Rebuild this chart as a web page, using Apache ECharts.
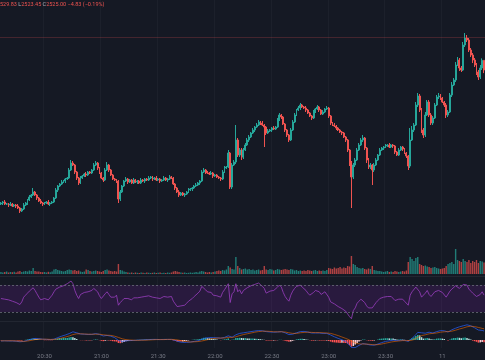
<!DOCTYPE html>
<html><head><meta charset="utf-8">
<script src="https://cdn.jsdelivr.net/npm/echarts/dist/echarts.min.js"></script>
<style>html,body{margin:0;padding:0;background:#151924;}#c{width:485px;height:360px;}</style>
</head><body><div id="c"></div>
<script>
const startMinute = 20 * 60 + 7;
const tickTimes = ['20:30','21:00','21:30','22:00','22:30','23:00','23:30','00:00'];
const tickLabels = ['20:30','21:00','21:30','22:00','22:30','23:00','23:30','11'];
const legendParts = [['', '529.83 '], ['L', '2523.45 '], ['C', '2525.00 '], ['', '\u22124.83 (\u22120.19%)']];
const highLine = 2541.5;
const firstOpen = 2458;
const closes = [
2458.5,2459,2458,2458,2457.5,2458,2457,2457.5,2457,2456,
2454.5,2455.5,2457.5,2458.5,2460,2461.5,2462.5,2464,2462.5,2461,
2459.5,2458.5,2458,2458.5,2459,2458,2458.5,2459,2461,2465,
2467,2468,2469,2469.5,2470.5,2471,2475,2478.5,2477.5,2474,
2471,2468.5,2471,2472,2473,2472.5,2474,2473.5,2475,2477.5,
2478.5,2476,2473.5,2471,2470,2475,2477.5,2475,2472.5,2470.5,
2470,2469.5,2460.5,2464,2467,2469.5,2470.5,2469,2470,2468.5,
2470,2469,2469.5,2468.5,2470,2469.5,2470.5,2470,2471,2471.5,
2470.5,2471,2470,2470.5,2469.5,2470,2471,2470,2470.5,2471.5,
2471,2468,2466,2464,2462.5,2463.5,2462.5,2463,2464,2465,
2465.5,2466,2467,2467.5,2468.5,2469.5,2474,2475,2474,2473.5,
2473,2473.5,2472,2472.5,2471.5,2471,2470.5,2474,2476,2476.5,
2483.5,2466.5,2477.5,2479,2490,2482.5,2485,2481.5,2485,2487.5,
2490,2491.5,2493.5,2495,2496.5,2497.5,2499,2498.5,2497.5,2496.5,
2493.5,2494.5,2495,2496,2495.5,2496.5,2500,2502.5,2501.5,2498,
2495,2492.5,2490,2495,2499,2502.5,2505,2506,2507.5,2506.5,
2506,2505,2503.5,2502,2501,2504,2505.5,2506.5,2505,2503,
2504,2505.5,2506,2502,2498.5,2497.5,2497,2496,2495,2494,
2493.5,2491.5,2490,2485,2478.5,2471.5,2477.5,2480,2485,2487.5,
2490,2491,2486,2480,2476.5,2477.5,2475,2477.5,2480,2482.5,
2485,2486,2486.5,2487,2487.5,2486.5,2487.5,2487,2484,2482.5,
2485,2486.5,2485.5,2483.5,2482,2477,2490,2495,2497.5,2507.5,
2512,2505,2495,2492.5,2502.5,2509,2502.5,2498.5,2501,2507.5,
2511.5,2512,2511,2509,2507.5,2502.5,2504,2512.5,2517.5,2520,
2527.5,2530,2526,2525,2537.5,2541,2540,2535,2532.5,2530,
2527.5,2524,2521.5,2526,2529.83,2525];
const upperWick = [
0.5,0.5,1,0.5,0.5,1,0.5,0.5,0.5,1,
0.5,0.5,1,0.5,0.5,1,0.5,2,0.5,0.5,
0.5,1,0.5,0.5,0.5,1,0.5,0.5,0.5,1,
0.5,0.5,1,0.5,0.5,0.5,1,1.5,1,0.5,
0.5,0.5,1,0.5,0.5,1,0.5,0.5,0.5,1,
1,0.5,0.5,0.5,0.5,1,1.5,0.5,0.5,0.5,
0.5,0.5,0.5,1,0.5,0.5,1,0.5,0.5,0.5,
1,0.5,0.5,0.5,1,0.5,0.5,0.5,1,0.5,
0.5,0.5,1,0.5,0.5,0.5,1,0.5,0.5,1,
0.5,0.5,0.5,0.5,1,0.5,0.5,0.5,0.5,1,
0.5,0.5,0.5,1,0.5,0.5,1,1,0.5,0.5,
0.5,1,0.5,0.5,0.5,0.5,0.5,1,1,0.5,
1.5,0.5,1,1,7.5,1,1,1,1,1,
1,1,0.5,1,0.5,1,1,0.5,1,0.5,
0.5,1,0.5,0.5,1,0.5,1,1,0.5,0.5,
0.5,0.5,0.5,1,1,1,0.5,1,1,0.5,
0.5,1,0.5,0.5,0.5,1,0.5,1,0.5,0.5,
1,0.5,1,0.5,0.5,0.5,1,0.5,0.5,0.5,
0.5,0.5,0.5,0.5,0.5,1,1,1,1,1,
1,1.5,0.5,0.5,1,1,0.5,1,1,0.5,
1,0.5,0.5,1,0.5,1,0.5,0.5,0.5,0.5,
1,0.5,0.5,0.5,0.5,0.5,6,2,1,1.5,
1.5,1,1,1,1.5,1,1,1,1,1,
1,1.5,1,0.5,0.5,1,1,1,1.5,1,
1.5,1.5,1,1,1.5,2.5,1.5,1,1,1,
1,1,1,1.5,1,0];
const lowerWick = [
0.5,1,0.5,0.5,1,0.5,0.5,0.5,1,0.5,
1,0.5,0.5,0.5,1,0.5,0.5,0.5,0.5,1,
0.5,0.5,1,0.5,0.5,0.5,1,0.5,0.5,0.5,
1,0.5,0.5,0.5,1,0.5,0.5,0.5,0.5,1,
1,1,0.5,0.5,0.5,1,0.5,0.5,0.5,0.5,
0.5,1,0.5,0.5,1,0.5,0.5,1,0.5,0.5,
0.5,1,2,1,0.5,0.5,0.5,1,0.5,0.5,
0.5,0.5,1,0.5,0.5,0.5,1,0.5,0.5,0.5,
1,0.5,0.5,0.5,1,0.5,0.5,0.5,1,0.5,
0.5,0.5,1,0.5,1,0.5,0.5,1,0.5,0.5,
0.5,1,0.5,0.5,0.5,1,0.5,0.5,1,0.5,
0.5,0.5,1,0.5,0.5,0.5,1,0.5,0.5,0.5,
0.5,1,1,0.5,1,1,1,1.5,1,0.5,
0.5,1,0.5,0.5,1,0.5,0.5,1,0.5,10,
1,0.5,0.5,1,0.5,0.5,0.5,0.5,1,0.5,
1,1,1,0.5,0.5,0.5,0.5,0.5,1,0.5,
0.5,1,0.5,0.5,1,0.5,0.5,0.5,1,0.5,
0.5,0.5,0.5,1,1,0.5,0.5,1,0.5,0.5,
1,0.5,1,1,1.5,15.5,1,1,0.5,0.5,
0.5,1,1,1.5,1,1,7.5,1,0.5,0.5,
0.5,0.5,1,0.5,0.5,0.5,0.5,1,1,0.5,
0.5,0.5,1,0.5,1,2,1,0.5,1,0.5,
1,1,1.5,1.5,1,0.5,1,1,1,0.5,
0.5,1,1,0.5,1,1.5,1,0.5,1,0.5,
1,0.5,1.5,1,0.5,1,1,1,1,1.5,
1,1.5,1.5,1,1,1.55];
const volumes = [
20,15,20,25,15,20,18,22,15,25,
30,20,25,30,25,35,30,60,30,25,
25,20,18,20,15,22,18,25,45,50,
40,35,30,25,30,40,45,40,35,40,
30,35,25,20,25,45,40,30,25,30,
35,30,25,20,30,40,45,35,30,25,
30,25,100,40,35,25,20,15,12,15,
10,15,12,10,15,12,10,15,12,10,
12,15,10,12,15,10,12,10,15,12,
15,25,30,25,20,15,12,15,10,12,
15,12,15,20,15,25,30,25,20,15,
20,15,20,25,30,35,30,40,35,45,
80,65,50,45,170,80,60,45,50,55,
45,50,40,45,35,40,45,35,40,80,
45,40,50,45,35,40,50,45,40,45,
50,45,40,50,45,35,40,30,35,30,
35,30,40,35,30,35,40,30,35,30,
35,30,40,60,55,50,65,55,60,70,
55,65,60,80,75,180,100,90,70,60,
55,60,50,45,55,50,80,40,35,30,
30,25,20,25,30,20,25,20,30,25,
20,25,30,25,35,120,170,150,130,160,
170,100,90,80,85,75,70,60,65,70,
60,55,50,55,60,80,100,110,120,100,
250,140,130,120,150,130,120,140,110,130,
120,140,110,130,125,115];
const rsi = [
50,51,49,50,48,47,46,45,44,43,
41,45,52,55,58,61,63,66,62,57,
52,48,47,50,49,48,50,55,60,64,
66,67,68,69,70,72,74,76,72,62,
55,50,56,58,59,58,60,59,62,65,
66,60,54,50,49,57,60,56,52,50,
52,55,40,44,47,50,52,50,51,48,
51,50,51,49,52,51,53,52,54,54,
52,53,51,52,50,51,53,51,52,54,
53,46,42,38,36,39,37,40,43,46,
48,50,53,55,58,61,68,69,63,60,
58,59,55,56,54,53,52,59,63,64,
72,44,57,60,72,60,63,57,62,64,
66,67,69,70,71,72,73,71,68,65,
58,60,61,63,62,63,67,70,67,59,
53,49,46,55,61,65,68,69,70,67,
65,62,58,55,53,59,62,63,60,56,
58,60,61,52,45,43,42,40,38,36,
35,33,31,27,23,20,32,36,43,46,
49,50,44,39,36,38,36,40,44,47,
50,51,52,53,53,51,53,52,47,45,
49,51,49,46,44,40,55,60,62,67,
69,60,52,50,58,62,56,53,55,60,
62,62,61,59,58,52,54,61,64,66,
69,70,65,64,71,72,70,64,61,58,
56,53,51,56,60,55];
const macdLine = [
-0.5,-0.4,-0.4,-0.4,-0.5,-0.5,-0.5,-0.6,-0.6,-0.7,
-0.9,-0.9,-0.7,-0.5,-0.2,0.1,0.4,0.7,0.8,0.8,
0.7,0.5,0.4,0.3,0.3,0.2,0.2,0.2,0.4,0.8,
1.2,1.6,1.9,2.2,2.5,2.7,3.2,3.8,4.1,4.0,
3.6,3.1,3.0,2.9,2.9,2.8,2.8,2.7,2.8,3.0,
3.2,3.1,2.8,2.4,2.0,2.1,2.3,2.2,1.9,1.5,
1.2,0.9,-0.2,-0.6,-0.7,-0.6,-0.4,-0.4,-0.3,-0.3,
-0.2,-0.2,-0.1,-0.1,0.0,0.0,0.1,0.1,0.2,0.3,
0.3,0.3,0.3,0.3,0.2,0.2,0.3,0.3,0.3,0.3,
0.3,0.1,-0.2,-0.6,-0.9,-1.1,-1.2,-1.2,-1.2,-1.1,
-1.0,-0.9,-0.7,-0.6,-0.4,-0.2,0.3,0.8,1.0,1.1,
1.2,1.2,1.2,1.2,1.1,1.0,0.9,1.1,1.3,1.5,
2.1,1.2,1.4,1.6,2.6,2.9,3.3,3.4,3.6,3.9,
3.9,4.0,4.2,4.4,4.5,4.6,4.7,4.7,4.6,4.5,
4.2,4.1,4.0,3.9,3.9,3.9,4.0,4.2,4.2,4.0,
3.6,3.2,2.7,2.7,2.9,3.2,3.6,3.9,4.2,4.3,
4.3,4.2,4.0,3.8,3.5,3.5,3.5,3.6,3.5,3.3,
3.3,3.3,3.3,3.0,2.5,2.0,1.6,1.2,0.8,0.4,
0.1,-0.3,-0.7,-1.4,-2.5,-3.8,-4.0,-3.8,-3.3,-2.7,
-2.2,-1.8,-1.8,-2.1,-2.4,-2.5,-2.7,-2.6,-2.4,-2.0,
-1.6,-1.3,-1.0,-0.7,-0.5,-0.4,-0.2,-0.1,-0.2,-0.3,
-0.2,-0.1,-0.1,-0.2,-0.3,-0.7,0.0,0.8,1.5,2.7,
3.8,4.1,3.6,3.1,3.4,3.9,3.9,3.6,3.5,3.8,
4.2,4.5,4.7,4.7,4.6,4.2,4.0,4.5,5.1,5.6,
5.9,6.4,6.6,6.6,7.1,7.5,7.6,7.4,7.1,6.6,
6.1,5.6,5.0,4.8,4.8,4.5];
const signalLine = [
-0.4,-0.4,-0.4,-0.4,-0.4,-0.4,-0.4,-0.5,-0.5,-0.5,
-0.6,-0.6,-0.7,-0.6,-0.5,-0.4,-0.2,0.0,0.2,0.3,
0.4,0.4,0.4,0.4,0.4,0.3,0.3,0.3,0.3,0.4,
0.5,0.7,1.0,1.2,1.5,1.7,2.0,2.3,2.7,3.0,
3.1,3.1,3.1,3.0,3.0,3.0,2.9,2.9,2.9,2.9,
2.9,3.0,2.9,2.8,2.6,2.5,2.4,2.4,2.3,2.1,
1.9,1.7,1.3,1.0,0.6,0.4,0.2,0.1,0.0,-0.1,
-0.1,-0.2,-0.2,-0.2,-0.1,-0.1,-0.1,0.0,0.0,0.1,
0.1,0.2,0.2,0.2,0.2,0.2,0.2,0.2,0.3,0.3,
0.3,0.3,0.2,0.1,-0.1,-0.3,-0.5,-0.7,-0.8,-0.9,
-1.0,-1.0,-0.9,-0.9,-0.8,-0.7,-0.5,-0.3,-0.1,0.2,
0.4,0.6,0.7,0.8,0.9,1.0,1.0,1.0,1.0,1.1,
1.3,1.3,1.3,1.4,1.6,1.9,2.2,2.4,2.7,2.9,
3.1,3.3,3.5,3.7,3.9,4.0,4.2,4.3,4.4,4.4,
4.4,4.3,4.3,4.2,4.1,4.1,4.1,4.1,4.1,4.1,
4.0,3.8,3.6,3.4,3.3,3.3,3.3,3.4,3.6,3.7,
3.8,3.9,3.9,3.9,3.8,3.8,3.7,3.7,3.7,3.6,
3.6,3.6,3.5,3.5,3.3,3.1,2.8,2.5,2.2,1.9,
1.5,1.2,0.8,0.4,0.0,-0.5,-1.0,-1.5,-1.8,-2.0,
-2.0,-2.0,-2.0,-2.0,-2.1,-2.2,-2.3,-2.4,-2.4,-2.3,
-2.2,-2.0,-1.8,-1.6,-1.4,-1.2,-1.0,-0.8,-0.7,-0.6,
-0.5,-0.4,-0.3,-0.3,-0.3,-0.4,-0.3,-0.1,0.2,0.7,
1.3,1.8,2.2,2.4,2.6,2.9,3.1,3.2,3.3,3.4,
3.5,3.7,3.9,4.0,4.1,4.2,4.2,4.2,4.4,4.6,
4.9,5.2,5.5,5.7,6.0,6.3,6.6,6.8,6.9,6.9,
6.7,6.5,6.3,6.0,5.8,5.6];
const macdHist = [
-0.1,0,0,0,-0.1,-0.1,-0.1,-0.1,-0.1,-0.2,
-0.3,-0.3,0,0.1,0.3,0.5,0.6,0.7,0.6,0.5,
0.3,0.1,0,-0.1,-0.1,-0.1,-0.1,-0.1,0.1,0.4,
0.7,0.9,0.9,1.0,1.0,1.0,1.2,1.5,1.4,1.0,
0.5,0,-0.1,-0.1,-0.1,-0.2,-0.1,-0.2,-0.1,0.1,
0.3,0.1,-0.1,-0.4,-0.6,-0.4,-0.1,-0.2,-0.4,-0.6,
-0.7,-0.8,-1.5,-1.6,-1.3,-1.0,-0.6,-0.5,-0.3,-0.2,
-0.1,0,0.1,0.1,0.1,0.1,0.2,0.1,0.2,0.2,
0.2,0.1,0.1,0.1,0,0,0.1,0.1,0,0,
0,-0.2,-0.4,-0.7,-0.8,-0.8,-0.7,-0.5,-0.4,-0.2,
0,0.1,0.2,0.3,0.4,0.5,0.8,1.1,1.1,0.9,
0.8,0.6,0.5,0.4,0.2,0,-0.1,0.1,0.3,0.4,
0.8,-0.1,0.1,0.2,1.0,1.0,1.1,1.0,0.9,1.0,
0.8,0.7,0.7,0.7,0.6,0.6,0.5,0.4,0.2,0.1,
-0.2,-0.2,-0.3,-0.3,-0.2,-0.2,-0.1,0.1,0.1,-0.1,
-0.4,-0.6,-0.9,-0.7,-0.4,-0.1,0.3,0.5,0.6,0.6,
0.5,0.3,0.1,-0.1,-0.3,-0.3,-0.2,-0.1,-0.2,-0.3,
-0.3,-0.3,-0.2,-0.5,-0.8,-1.1,-1.2,-1.3,-1.4,-1.5,
-1.4,-1.5,-1.5,-1.8,-2.5,-3.3,-3.0,-2.3,-1.5,-0.7,
-0.2,0.2,0.2,-0.1,-0.3,-0.3,-0.4,-0.2,0,0.3,
0.6,0.7,0.8,0.9,0.9,0.8,0.8,0.7,0.5,0.3,
0.3,0.3,0.2,0.1,0,-0.3,0.3,0.9,1.3,2.0,
2.5,2.3,1.4,0.7,0.8,1.0,0.8,0.4,0.2,0.4,
0.7,0.8,0.8,0.7,0.5,0,-0.2,0.3,0.7,1.0,
1.0,1.2,1.1,0.9,1.1,1.2,1.0,0.6,0.2,-0.3,
-0.6,-0.9,-1.3,-1.2,-1.0,-1.1];

const UP = '#26a69a', DOWN = '#ef5350';
const times = closes.map((_, i) => {
  const m = startMinute + i;
  return String(Math.floor(m / 60) % 24).padStart(2, '0') + ':' + String(m % 60).padStart(2, '0');
});
const opens = closes.map((c, i) => i === 0 ? firstOpen : closes[i - 1]);
const candleData = closes.map((c, i) => {
  const o = opens[i];
  const col = c >= o ? UP : DOWN;
  return { value: [o, c, Math.min(o, c) - lowerWick[i], Math.max(o, c) + upperWick[i]],
    itemStyle: { color: col, color0: col, borderColor: col, borderColor0: col, borderColorDoji: col } };
});
const volData = volumes.map((v, i) => ({
  value: v,
  itemStyle: { color: closes[i] >= opens[i] ? 'rgba(38,166,154,0.7)' : 'rgba(239,83,80,0.7)' }
}));
const histData = macdHist.map((h, i) => {
  const prev = i === 0 ? 0 : macdHist[i - 1];
  let col;
  if (h >= 0) col = h >= prev ? '#26a69a' : '#b2dfdb';
  else col = h <= prev ? '#ff5252' : '#ffcdd2';
  return { value: h, itemStyle: { color: col } };
});
const isTick = (idx, v) => tickTimes.indexOf(v) >= 0;
const gridCol = '#1c202b';
function xAx(gi, showLabel) {
  return {
    type: 'category', data: times, gridIndex: gi, boundaryGap: true,
    axisLine: { show: false }, axisTick: { show: false },
    axisLabel: showLabel ? {
      show: true, interval: isTick, color: '#787b86', fontSize: 6, margin: 5,
      fontFamily: 'Roboto, sans-serif',
      formatter: v => tickLabels[tickTimes.indexOf(v)]
    } : { show: false },
    splitLine: { show: gi !== 1, interval: isTick, lineStyle: { color: gridCol, width: 1 } }
  };
}
function yAx(gi, min, max) {
  return { type: 'value', gridIndex: gi, min: min, max: max, show: false, splitLine: { show: false } };
}
const chart = echarts.init(document.getElementById('c'), null, { renderer: 'canvas' });
chart.setOption({
  backgroundColor: '#151924',
  animation: false,
  grid: [
    { left: 0, right: 0, top: 0, height: 274 },
    { left: 0, right: 0, top: 234, height: 40 },
    { left: 0, right: 0, top: 277, height: 43 },
    { left: 0, right: 0, top: 322, height: 26 }
  ],
  xAxis: [xAx(0, false), xAx(1, false), xAx(2, false), xAx(3, true)],
  yAxis: [yAx(0, 2423, 2560), yAx(1, 0, 400), yAx(2, 18, 82), yAx(3, -4, 9)],
  graphic: [
    { type: 'rect', left: 0, top: 276, shape: { width: 485, height: 1 }, style: { fill: '#222631' }, z: 10 },
    { type: 'rect', left: 0, top: 321, shape: { width: 485, height: 1 }, style: { fill: '#222631' }, z: 10 },
    { type: 'text', left: 0, top: 2, z: 20, style: {
      text: legendParts.map(p => (p[0] ? '{k|' + p[0] + '}' : '') + '{v|' + p[1] + '}').join(''),
      rich: {
        k: { fill: '#b2b5be', fontSize: 5.5, fontFamily: 'Roboto, sans-serif' },
        v: { fill: '#ef5350', fontSize: 5.5, fontFamily: 'Roboto, sans-serif' }
      }
    } }
  ],
  series: [
    {
      type: 'candlestick', xAxisIndex: 0, yAxisIndex: 0, data: candleData, barWidth: '75%',
      large: false, emphasis: { disabled: true },
      itemStyle: { color: UP, color0: DOWN, borderColor: UP, borderColor0: DOWN, borderWidth: 1 },
      markLine: { silent: true, symbol: 'none', label: { show: false },
        lineStyle: { color: 'rgba(239,83,80,0.22)', type: 'solid', width: 1 },
        data: [{ yAxis: highLine }] }
    },
    { type: 'bar', xAxisIndex: 1, yAxisIndex: 1, data: volData, barWidth: '75%' },
    {
      type: 'line', xAxisIndex: 2, yAxisIndex: 2, data: rsi, symbol: 'none',
      lineStyle: { color: '#9b3fc0', width: 0.8 },
      markLine: { silent: true, symbol: 'none', label: { show: false },
        lineStyle: { color: '#6a6d78', type: [2, 2], width: 0.8 },
        data: [{ yAxis: 70 }, { yAxis: 30 }] },
      markArea: { silent: true, itemStyle: { color: 'rgba(150,40,200,0.16)' },
        data: [[{ yAxis: 30 }, { yAxis: 70 }]] }
    },
    { type: 'bar', xAxisIndex: 3, yAxisIndex: 3, data: histData, barWidth: '80%' },
    { type: 'line', xAxisIndex: 3, yAxisIndex: 3, data: macdLine, symbol: 'none', lineStyle: { color: '#2962ff', width: 0.7 } },
    { type: 'line', xAxisIndex: 3, yAxisIndex: 3, data: signalLine, symbol: 'none', lineStyle: { color: '#ff6d00', width: 0.7, opacity: 0.8 } }
  ]
});
</script>
</body></html>
